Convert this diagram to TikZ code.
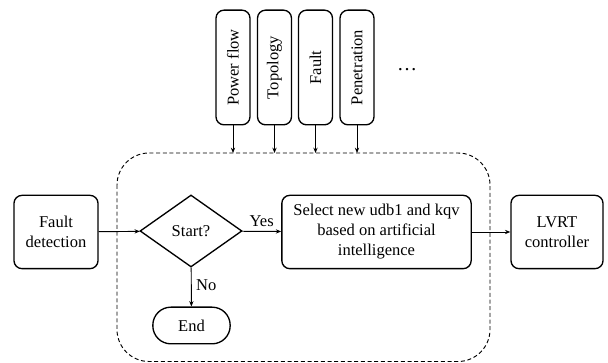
\documentclass[tikz,border=0pt]{standalone}
\usepackage{fontspec}
\setmainfont{Liberation Serif}
\usetikzlibrary{shapes.geometric,arrows.meta}

\begin{document}
\begin{tikzpicture}[
    x=0.75pt, y=-0.75pt,
    font=\fontsize{12.4}{15}\selectfont,
    box/.style={draw, line width=1pt, rounded corners=6pt, align=center, inner sep=2pt},
    factor/.style={box, rotate=90, minimum width=86pt, minimum height=25.5pt},
    decision/.style={draw, line width=1pt, diamond, inner sep=0pt,
      minimum width=76.5pt, minimum height=54pt},
    flow/.style={-{Stealth[length=4pt,width=3.2pt]}, line width=0.7pt}
  ]
  \useasboundingbox (0,0) rectangle (608,363);

  % influencing factors
  \node (power) [factor] at (233,67.5) {Power flow};
  \node (topo) [factor] at (274.5,67.5) {Topology};
  \node (fault) [factor] at (315.5,67.5) {Fault};
  \node (pen) [factor] at (357,67.5) {Penetration};
  \node (more) at (407,70) {\fontsize{15}{15}\selectfont\dots};

  % AI selection block
  \draw [dashed, dash pattern=on 3pt off 2pt, line width=0.7pt, rounded corners=24pt]
    (117,153) rectangle (490,361.5);
  \coordinate (inpower) at (233,153);
  \coordinate (intopo) at (274.5,153);
  \coordinate (infault) at (315.5,153);
  \coordinate (inpen) at (357,153);

  \node (detect) [box, minimum width=63pt, minimum height=55pt] at (56,232) {Fault\\detection};
  \node (start) [decision] at (191,231) {Start?};
  \node (select) [box, minimum width=142pt, minimum height=55pt] at (376.5,232)
    {Select new udb1 and kqv\\based on artificial\\intelligence};
  \node (lvrt) [box, minimum width=69pt, minimum height=55pt] at (557,232) {LVRT\\controller};
  \node (end) [box, rounded corners=13.5pt, minimum width=58pt, minimum height=27.5pt] at (191.5,325.5) {End};

  \draw [flow] (power) -- (inpower);
  \draw [flow] (topo) -- (intopo);
  \draw [flow] (fault) -- (infault);
  \draw [flow] (pen) -- (inpen);
  \draw [flow] (detect) -- (start);
  \draw [flow] (start) -- node [above] {Yes} (select);
  \draw [flow] (start) -- node [right, pos=0.45] {No} (end);
  \draw [flow] (select) -- (lvrt);
\end{tikzpicture}
\end{document}
